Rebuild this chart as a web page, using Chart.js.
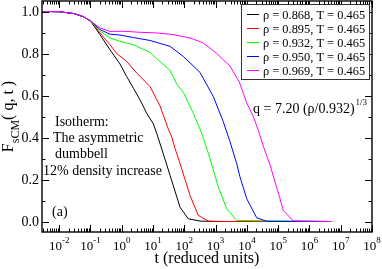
<!DOCTYPE html>
<html>
<head>
<meta charset="utf-8">
<script src="https://cdn.jsdelivr.net/npm/chart.js@4"></script>
<style>
  html, body { margin: 0; padding: 0; background: #fff; }
</style>
</head>
<body>
<canvas id="c" width="382" height="269"></canvas>
<script>
// series labels and colours
const labels = ['ρ = 0.868, T = 0.465', 'ρ = 0.895, T = 0.465', 'ρ = 0.932, T = 0.465', 'ρ = 0.950, T = 0.465', 'ρ = 0.969, T = 0.465'];
const colors = ['#000000', '#ff0000', '#00ff00', '#0000ff', '#ff00ff'];

// t values and F_sCM(q,t)
const t868 = [0.003, 0.01, 0.03, 0.06, 0.1, 0.2, 0.42, 0.88, 1.44, 2.35, 3.85, 6.3, 10.2, 13.1, 19, 35, 73, 134, 317, 1000, 5e6];
const f868 = [1.0, 0.999, 0.99, 0.975, 0.955, 0.89, 0.818, 0.75, 0.69, 0.635, 0.579, 0.515, 0.465, 0.42, 0.345, 0.22, 0.068, 0.013, 0.002, 0, 0];
const t895 = [0.003, 0.01, 0.03, 0.06, 0.1, 0.2, 0.42, 0.69, 1.44, 3.0, 8, 16.7, 30.8, 39.6, 50.5, 73, 152, 280, 585, 2000, 5e6];
const f895 = [1.0, 0.999, 0.99, 0.975, 0.955, 0.898, 0.842, 0.80, 0.762, 0.707, 0.643, 0.55, 0.44, 0.403, 0.348, 0.276, 0.124, 0.029, 0.002, 0, 0];
const t932 = [0.003, 0.01, 0.03, 0.06, 0.1, 0.2, 0.42, 0.88, 2.35, 8, 13.1, 35, 57, 93, 194, 360, 662, 1220, 2264, 4720, 5e6];
const f932 = [1.0, 0.999, 0.99, 0.975, 0.955, 0.906, 0.874, 0.858, 0.842, 0.805, 0.775, 0.72, 0.655, 0.615, 0.515, 0.42, 0.30, 0.165, 0.06, 0.005, 0];
const t950 = [0.003, 0.01, 0.03, 0.06, 0.1, 0.2, 0.42, 0.88, 2.35, 8, 35, 93, 317, 845, 1763, 2885, 4720, 6025, 9860, 20560, 43000, 5e6];
const f950 = [1.0, 0.999, 0.99, 0.975, 0.955, 0.914, 0.892, 0.888, 0.876, 0.862, 0.834, 0.786, 0.71, 0.595, 0.475, 0.38, 0.276, 0.212, 0.109, 0.018, 0.001, 0];
const t969 = [0.003, 0.01, 0.03, 0.06, 0.1, 0.2, 0.42, 1.1, 3.85, 13, 44, 152, 405, 1085, 2885, 5715, 9860, 16000, 23100, 33400, 54700, 114000, 145000, 303000, 5.1e6];
const f969 = [1.0, 0.999, 0.99, 0.975, 0.955, 0.922, 0.905, 0.906, 0.901, 0.898, 0.89, 0.874, 0.85, 0.80, 0.74, 0.665, 0.565, 0.5, 0.435, 0.36, 0.27, 0.11, 0.053, 0.003, 0];

// axis ticks
const xTickVals = [1e-2, 1e-1, 1e0, 1e1, 1e2, 1e3, 1e4, 1e5, 1e6, 1e7, 1e8];
const xTickExp = ['-2', '-1', '0', '1', '2', '3', '4', '5', '6', '7', '8'];
const yTickVals = [0, 0.2, 0.4, 0.6, 0.8, 1.0];
const yTickLabels = ['0.0', '0.2', '0.4', '0.6', '0.8', '1.0'];
const yMinorVals = [0.1, 0.3, 0.5, 0.7, 0.9];

const tSets = [t868, t895, t932, t950, t969];
const fSets = [f868, f895, f932, f950, f969];

const serif = '"Liberation Serif", "DejaVu Serif", serif';

const decor = {
    id: 'decor',
    afterDraw: (chart) => {
        const ctx = chart.ctx;
        const a = chart.chartArea;
        const xs = chart.scales.x, ys = chart.scales.y;
        ctx.save();
        ctx.strokeStyle = '#000';
        ctx.fillStyle = '#000';
        ctx.lineWidth = 1;

        // ticks, pointing inward on all four sides
        const tickX = (v, len) => {
            const px = Math.round(xs.getPixelForValue(v)) + 0.5;
            ctx.beginPath();
            ctx.moveTo(px, a.bottom); ctx.lineTo(px, a.bottom - len);
            ctx.moveTo(px, a.top); ctx.lineTo(px, a.top + len);
            ctx.stroke();
        };
        const tickY = (v, len) => {
            const py = Math.round(ys.getPixelForValue(v)) + 0.5;
            ctx.beginPath();
            ctx.moveTo(a.left, py); ctx.lineTo(a.left + len, py);
            ctx.moveTo(a.right, py); ctx.lineTo(a.right - len, py);
            ctx.stroke();
        };
        for (let e = -3; e <= 7; e++) {
            for (let k = 2; k <= 9; k++) {
                const v = k * Math.pow(10, e);
                if (v > xs.min && v < xs.max) tickX(v, 3.5);
            }
        }
        xTickVals.forEach(v => tickX(v, 7));
        yTickVals.forEach(v => tickY(v, 7));
        yMinorVals.forEach(v => tickY(v, 3.5));

        // frame
        ctx.lineWidth = 1.4;
        ctx.strokeRect(a.left, a.top, a.right - a.left, a.bottom - a.top);

        // y tick labels
        ctx.font = '14px ' + serif;
        ctx.textAlign = 'right';
        ctx.textBaseline = 'middle';
        yTickVals.forEach((v, i) => ctx.fillText(yTickLabels[i], a.left - 3, ys.getPixelForValue(v) + 1));

        // x tick labels 10^n
        ctx.textAlign = 'left';
        ctx.textBaseline = 'alphabetic';
        xTickVals.forEach((v, i) => {
            ctx.font = '13px ' + serif;
            const w1 = ctx.measureText('10').width;
            ctx.font = '9px ' + serif;
            const w2 = ctx.measureText(xTickExp[i]).width;
            const x0 = xs.getPixelForValue(v) - (w1 + w2) / 2;
            ctx.font = '13px ' + serif;
            ctx.fillText('10', x0, 250);
            ctx.font = '9px ' + serif;
            ctx.fillText(xTickExp[i], x0 + w1, 243);
        });

        // x title
        ctx.font = '16px ' + serif;
        ctx.textAlign = 'center';
        ctx.fillText('t (reduced units)', (a.left + a.right) / 2, 263);

        // y title F_sCM( q, t )
        ctx.save();
        ctx.translate(13, (a.top + a.bottom) / 2);
        ctx.rotate(-Math.PI / 2);
        ctx.textAlign = 'left';
        ctx.font = '16px ' + serif;
        const wF = ctx.measureText('F').width;
        const wP = ctx.measureText('( q, t )').width;
        ctx.font = '12px ' + serif;
        const wS = ctx.measureText('sCM').width;
        let x0 = -(wF + wS + wP) / 2;
        ctx.font = '16px ' + serif;
        ctx.fillText('F', x0, 0);
        ctx.font = '12px ' + serif;
        ctx.fillText('sCM', x0 + wF, 6);
        ctx.font = '16px ' + serif;
        ctx.fillText('( q, t )', x0 + wF + wS, 0);
        ctx.restore();

        // text notes
        ctx.font = '14px ' + serif;
        ctx.textAlign = 'left';
        ctx.fillText('Isotherm:', 55, 126);
        ctx.fillText('The asymmetric', 53, 142);
        ctx.fillText('dumbbell', 55, 158);
        ctx.fillText('12% density increase', 43, 175);
        ctx.fillText('(a)', 52, 216);

        ctx.fillText('q = 7.20 (ρ/0.932)', 253, 113);
        const wq = ctx.measureText('q = 7.20 (ρ/0.932)').width;
        ctx.font = '9px ' + serif;
        ctx.fillText('1/3', 253 + wq + 1, 105);

        // legend box
        ctx.fillStyle = '#fff';
        ctx.fillRect(241, 4, 128, 75);
        ctx.strokeStyle = '#333';
        ctx.lineWidth = 1;
        ctx.strokeRect(241.5, 4.5, 128, 75);
        ctx.font = '12.4px ' + serif;
        ctx.textBaseline = 'middle';
        chart.data.datasets.forEach((ds, i) => {
            const ly = Math.round(13.5 + i * 14.2) + 0.5;
            ctx.strokeStyle = ds.borderColor;
            ctx.beginPath();
            ctx.moveTo(247, ly); ctx.lineTo(259, ly);
            ctx.stroke();
            ctx.fillStyle = '#000';
            ctx.fillText(ds.label, 263, ly + 1);
        });
        ctx.restore();
    }
};

new Chart(document.getElementById('c'), {
    type: 'line',
    data: {
        datasets: labels.map((lab, i) => ({
            label: lab,
            data: tSets[i].map((t, j) => ({ x: t, y: fSets[i][j] })),
            borderColor: colors[i],
            borderWidth: 1,
            pointRadius: 0,
            tension: 0,
            fill: false,
            order: labels.length - i
        }))
    },
    options: {
        responsive: false,
        animation: false,
        layout: { padding: { left: 42, right: 10, top: 1, bottom: 37 } },
        scales: {
            x: { type: 'logarithmic', min: 0.00282, max: 1e8, display: false },
            y: { type: 'linear', min: -0.05, max: 1.05, display: false }
        },
        plugins: { legend: { display: false }, tooltip: { enabled: false } }
    },
    plugins: [decor]
});
</script>
</body>
</html>
